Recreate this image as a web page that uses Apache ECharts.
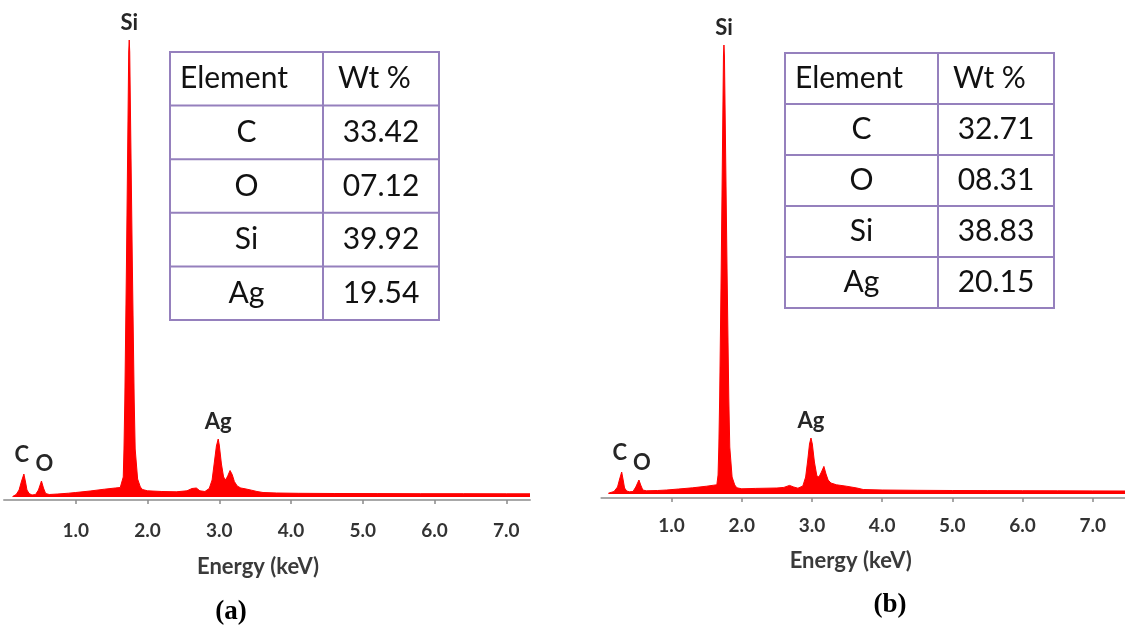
<!DOCTYPE html>
<html><head><meta charset="utf-8">
<script src="https://cdn.jsdelivr.net/npm/echarts@6/dist/echarts.min.js"></script>
<style>html,body{margin:0;padding:0;background:#fff}#c{width:1125px;height:632px}</style>
</head><body><div id="c"></div>
<script>
// ---------- data ----------
const tickValues = [1, 2, 3, 4, 5, 6, 7];
const axisTitle = 'Energy (keV)';
const panelLabels = ['(a)', '(b)'];
const tableHeader = ['Element', 'Wt %'];
const elements = ['C', 'O', 'Si', 'Ag'];
const wtA = ['33.42', '07.12', '39.92', '19.54'];
const wtB = ['32.71', '08.31', '38.83', '20.15'];

const peakNames = ['C', 'O', 'Si', 'Ag'];
const peakEnergyA = [0.277, 0.522, 1.745, 2.985];
const peakCountsA = [230, 160, 4570, 580];
const peakEnergyB = [0.289, 0.535, 1.746, 2.986];
const peakCountsB = [220, 140, 4490, 560];

// spectrum (a): [energy keV, counts]
const spectrumA = [
  [0.12, 5], [0.17, 25], [0.21, 70], [0.245, 160], [0.277, 230], [0.30, 150], [0.32, 70],
  [0.35, 35], [0.39, 20], [0.44, 25], [0.48, 70], [0.522, 160], [0.55, 90], [0.58, 35],
  [0.63, 25], [0.75, 30], [0.9, 38], [1.0, 45], [1.2, 60], [1.4, 78], [1.55, 90], [1.62, 95],
  [1.645, 105], [1.662, 200], [1.672, 480], [1.684, 980], [1.706, 2300], [1.738, 4450],
  [1.745, 4570], [1.752, 4450], [1.789, 2300], [1.814, 980], [1.828, 480], [1.862, 180],
  [1.90, 100], [1.93, 75], [2.0, 62], [2.2, 55], [2.4, 52], [2.55, 62], [2.62, 85], [2.68, 90],
  [2.73, 62], [2.8, 55], [2.86, 85], [2.9, 170], [2.93, 340], [2.96, 510], [2.985, 580],
  [3.0, 520], [3.03, 330], [3.06, 200], [3.09, 170], [3.12, 215], [3.15, 265], [3.18, 225],
  [3.21, 155], [3.25, 110], [3.3, 90], [3.36, 82], [3.45, 68], [3.525, 55], [3.61, 45],
  [3.8, 40], [4.1, 37], [4.6, 35], [5.2, 34], [5.8, 33], [6.4, 33], [7.0, 32], [7.33, 32]
];
// spectrum (b): [energy keV, counts]
const spectrumB = [
  [0.10, 8], [0.18, 25], [0.23, 70], [0.26, 150], [0.289, 220], [0.31, 140], [0.33, 60],
  [0.36, 30], [0.40, 22], [0.45, 25], [0.49, 70], [0.535, 140], [0.56, 90], [0.59, 40],
  [0.64, 32], [0.8, 35], [0.93, 40], [1.1, 50], [1.3, 62], [1.5, 78], [1.6, 88], [1.645, 92],
  [1.662, 190], [1.673, 470], [1.685, 960], [1.707, 2250], [1.739, 4380], [1.746, 4490],
  [1.753, 4380], [1.790, 2250], [1.815, 960], [1.829, 470], [1.862, 170], [1.90, 90],
  [1.93, 62], [2.0, 52], [2.2, 56], [2.5, 60], [2.6, 66], [2.68, 86], [2.74, 70], [2.8, 58],
  [2.87, 80], [2.91, 170], [2.94, 340], [2.965, 500], [2.986, 560], [3.005, 500], [3.035, 320],
  [3.07, 180], [3.1, 170], [3.135, 220], [3.17, 276], [3.2, 200], [3.23, 140], [3.27, 110],
  [3.35, 92], [3.49, 78], [3.64, 60], [3.73, 45], [4.0, 40], [4.5, 37], [5.0, 35], [5.5, 34],
  [6.0, 33], [6.5, 32], [7.0, 31], [7.46, 30]
];

// ---------- styling / layout ----------
const RED = '#ff0000';
const TXT = '#262626';
const peakLabelOffsets = [[-2, -2], [3, 0], [0, 0], [0, 0]];
const panels = [
  { left: 4, width: 526, top: 37, bottom: 132, min: -30, max: 4600, xmax: 7.33,
    labelMargin: 21, nameGap: 56, namePad: [0, 18, 0, 0],
    spectrum: spectrumA, pE: peakEnergyA, pC: peakCountsA },
  { left: 601.4, width: 523.6, top: 44, bottom: 134, min: -40, max: 4500, xmax: 7.46,
    labelMargin: 18, nameGap: 52, namePad: [0, 25, 0, 0],
    spectrum: spectrumB, pE: peakEnergyB, pC: peakCountsB }
];

const grids = [], xAxes = [], yAxes = [], series = [];
panels.forEach((p, i) => {
  grids.push({ left: p.left, width: p.width, top: p.top, bottom: p.bottom, containLabel: false });
  xAxes.push({
    type: 'value', gridIndex: i, min: 0, max: p.xmax,
    name: axisTitle, nameLocation: 'middle', nameGap: p.nameGap,
    nameTextStyle: { fontFamily: 'Lato', fontWeight: 'bold', fontSize: 22, color: '#3a3a3a', padding: p.namePad },
    axisLine: { onZero: false, lineStyle: { color: '#a8a8a8', width: 2 } },
    axisTick: { show: true, customValues: tickValues, length: 4, lineStyle: { color: '#8a8a8a', width: 1.5 } },
    axisLabel: { customValues: tickValues, margin: p.labelMargin, formatter: v => Number(v).toFixed(1),
      fontFamily: 'Lato', fontWeight: 'bold', fontSize: 19, color: '#333' },
    splitLine: { show: false }
  });
  yAxes.push({ type: 'value', gridIndex: i, min: p.min, max: p.max, show: false });
  series.push({
    type: 'line', xAxisIndex: i, yAxisIndex: i, data: p.spectrum,
    symbol: 'none', smooth: false, silent: true,
    lineStyle: { color: RED, width: 1 },
    areaStyle: { color: RED, opacity: 1, origin: 0 },
    markPoint: {
      symbol: 'rect', symbolSize: [1, 1], itemStyle: { color: 'rgba(0,0,0,0)' },
      label: { show: true, position: 'top', distance: 6, formatter: '{b}',
        fontFamily: 'Lato', fontWeight: 'bold', fontSize: 22, color: TXT },
      data: peakNames.map((n, k) => ({ name: n, coord: [p.pE[k], p.pC[k]],
        label: { offset: peakLabelOffsets[k] } }))
    }
  });
});

// tables
const tableLayouts = [
  { x: 170, y: 52, w1: 153, w2: 116, rowH: 53.6, values: wtA },
  { x: 785, y: 53, w1: 153, w2: 116, rowH: 51, values: wtB }
];
const BORDER = '#9580bd';
const graphics = [];
tableLayouts.forEach(t => {
  const rows = 1 + elements.length;
  const W = t.w1 + t.w2, H = t.rowH * rows;
  graphics.push({ type: 'rect', shape: { x: t.x, y: t.y, width: W, height: H },
    style: { fill: '#fff', stroke: BORDER, lineWidth: 2 } });
  graphics.push({ type: 'line', shape: { x1: t.x + t.w1, y1: t.y, x2: t.x + t.w1, y2: t.y + H },
    style: { stroke: BORDER, lineWidth: 2 } });
  for (let r = 1; r < rows; r++) {
    graphics.push({ type: 'line', shape: { x1: t.x, y1: t.y + r * t.rowH, x2: t.x + W, y2: t.y + r * t.rowH },
      style: { stroke: BORDER, lineWidth: 2 } });
  }
  const font = '30px Lato';
  graphics.push({ type: 'text', x: t.x + 10, y: t.y + t.rowH / 2,
    style: { text: tableHeader[0], font, fill: '#111', textAlign: 'left', textVerticalAlign: 'middle' } });
  graphics.push({ type: 'text', x: t.x + t.w1 + 15, y: t.y + t.rowH / 2,
    style: { text: tableHeader[1], font, fill: '#111', textAlign: 'left', textVerticalAlign: 'middle' } });
  elements.forEach((e, k) => {
    const cy = t.y + t.rowH * (k + 1.5);
    graphics.push({ type: 'text', x: t.x + t.w1 / 2, y: cy,
      style: { text: e, font, fill: '#111', textAlign: 'center', textVerticalAlign: 'middle' } });
    graphics.push({ type: 'text', x: t.x + t.w1 + t.w2 / 2, y: cy,
      style: { text: t.values[k], font, fill: '#111', textAlign: 'center', textVerticalAlign: 'middle' } });
  });
});
// panel captions
const captionPos = [[231, 612], [890, 605]];
panelLabels.forEach((s, i) => {
  graphics.push({ type: 'text', x: captionPos[i][0], y: captionPos[i][1],
    style: { text: s, font: 'bold 27px "Liberation Serif"', fill: '#000', textAlign: 'center', textVerticalAlign: 'middle' } });
});

const chart = echarts.init(document.getElementById('c'), null, { renderer: 'canvas' });
chart.setOption({
  animation: false,
  backgroundColor: '#fff',
  grid: grids, xAxis: xAxes, yAxis: yAxes, series,
  graphic: graphics
});
</script></body></html>
